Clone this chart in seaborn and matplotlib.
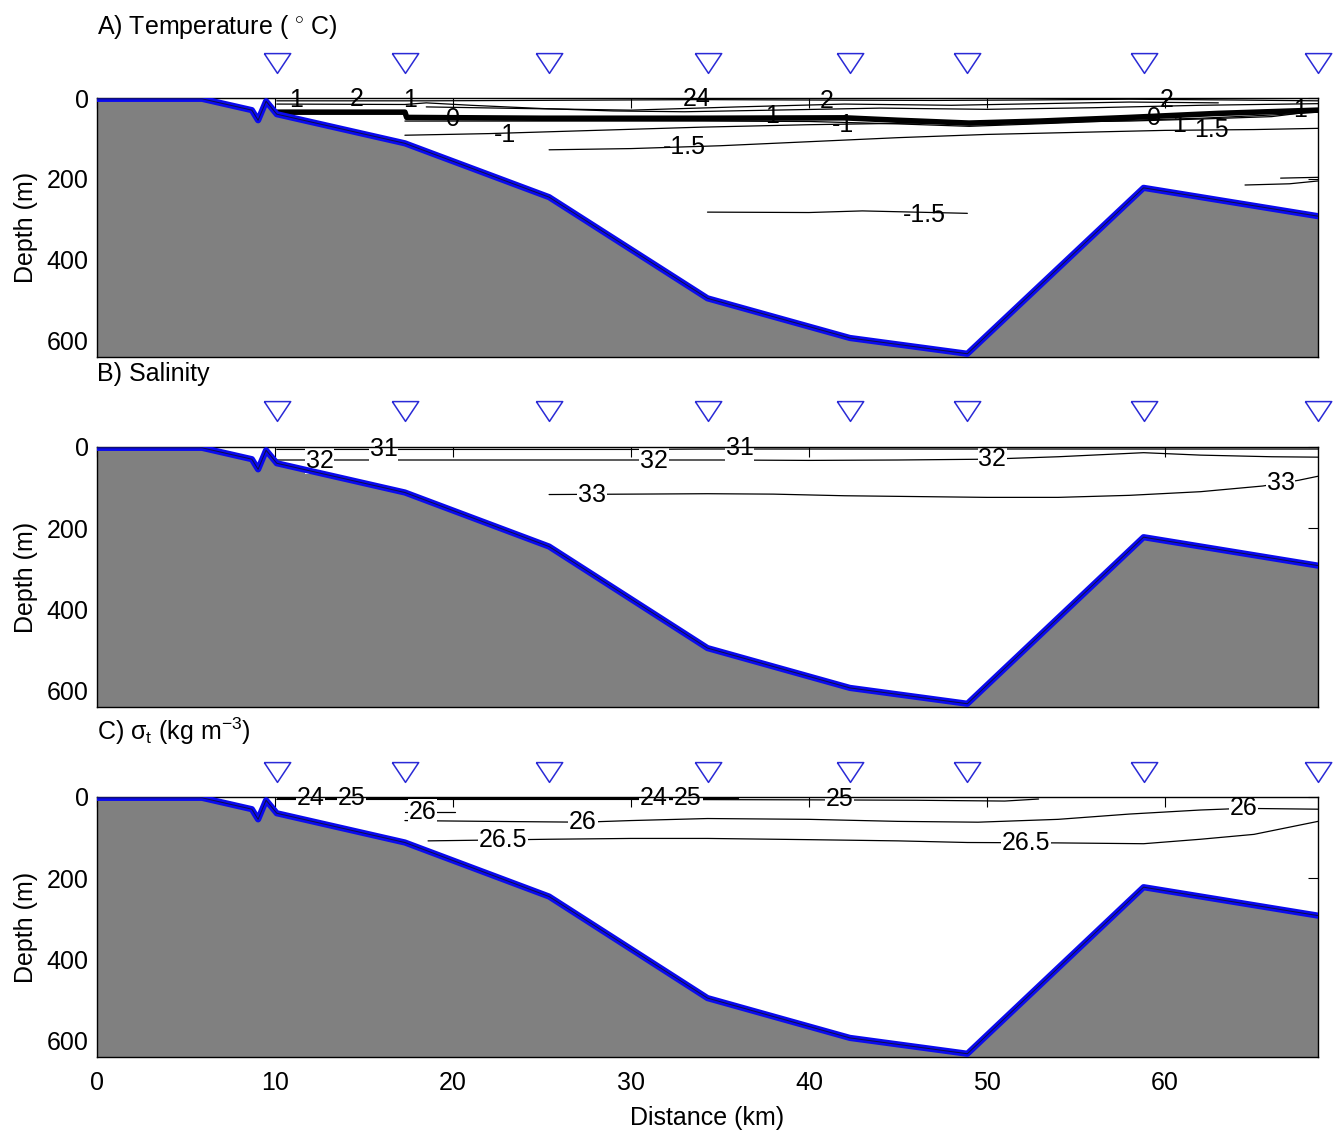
import matplotlib
matplotlib.use("Agg")
import matplotlib.pyplot as plt
import seaborn as sns

sns.set_theme(style="white")
plt.rcParams['font.family'] = ['Liberation Sans', 'DejaVu Sans']
plt.rcParams.update({'mathtext.fontset': 'custom',
                     'mathtext.rm': 'Liberation Sans',
                     'mathtext.it': 'Liberation Sans:italic',
                     'mathtext.sf': 'Liberation Sans',
                     'text.color': 'black',
                     'axes.labelcolor': 'black',
                     'xtick.color': 'black',
                     'ytick.color': 'black'})

# --- stations and bottom profile (distance km, depth m) ---
station_km = [10.1, 17.3, 25.4, 34.3, 42.3, 48.9, 58.8, 68.6]
bathy_km = [0, 5.9, 8.7, 9.05, 9.5, 10.1, 17.3, 25.4, 34.3, 42.3, 48.9, 58.8, 68.6]
bathy_depth = [2, 2, 30, 55, 8, 40, 112, 245, 495, 593, 632, 222, 292]

# --- temperature isolines ---
t2_km = [10.1, 14, 18.5, 24, 29, 34, 40, 47, 52, 58, 64, 68.6]
t2_depth = [7, 7, 7, 6, 5, 4, 5, 6, 5, 3, 5, 7]
t1_km = [10.1, 17.3, 18.5, 21, 25, 29, 33, 38, 44, 50, 56, 62, 68.6]
t1_depth = [15, 16, 12, 18, 26, 32, 34, 30, 25, 28, 24, 18, 14]
t1b_km = [18.5, 24, 30, 36, 42, 48, 53, 58, 63]
t1b_depth = [22, 26, 30, 22, 15, 18, 14, 10, 12]
t0_km = [10.1, 17.3, 17.4, 25, 34, 42, 45, 49, 53, 58, 63, 68.6]
t0_depth = [35, 35, 48, 50, 50, 49, 55, 62, 57, 48, 38, 30]
t0b_km = [17.3, 24, 34, 40, 45, 49, 54, 58, 62, 66, 68.6]
t0b_depth = [57, 57, 57, 58, 64, 70, 62, 55, 50, 42, 35]
tm1_km = [17.3, 22, 28, 34, 40, 46, 52, 58, 62, 66, 68.6]
tm1_depth = [92, 88, 80, 72, 66, 62, 60, 57, 52, 46, 32]
tm15_km = [25.4, 30, 35, 40, 45, 50, 55, 60, 65, 68.6]
tm15_depth = [128, 125, 118, 108, 98, 90, 85, 80, 78, 75]
tm15d_km = [34.3, 40, 43, 48.9]
tm15d_depth = [282, 283, 279, 285]
tr1_km = [64.5, 67, 68.6]
tr1_depth = [215, 212, 205]
tr2_km = [66.5, 68.6]
tr2_depth = [198, 196]
temp_lab_text = ["1", "2", "1", "0", "-1", "-1.5", "24", "1", "2", "-1",
                 "-1.5", "2", "0", "1", "1.5", "1"]
temp_lab_km = [11.2, 14.6, 17.6, 20.0, 22.9, 33.0, 33.7, 37.9, 41.0, 41.9,
               46.5, 60.1, 59.4, 60.8, 62.6, 67.6]
temp_lab_depth = [5, 3, 5, 52, 92, 121, 3, 45, 8, 66,
                  290, 5, 50, 67, 80, 30]

# --- salinity isolines ---
s31_km = [10.1, 20, 30, 34, 40, 44, 50, 56, 62, 68.6]
s31_depth = [6, 6, 6, 5, 5, 5, 5, 5, 5, 5]
s32_km = [10.1, 15, 20, 25, 30, 35, 40, 45, 50, 54, 58.8, 62, 66, 68.6]
s32_depth = [32, 32, 32, 32, 32, 32, 33, 32, 30, 24, 14, 20, 24, 25]
s33_km = [25.4, 30, 34.3, 38, 42, 46, 50, 54, 58, 62, 65.5, 67.5, 68.6]
s33_depth = [117, 116, 115, 116, 120, 122, 124, 124, 119, 110, 96, 82, 72]
sal_lab_text = ["31", "31", "32", "32", "32", "33", "33"]
sal_lab_km = [16.1, 36.1, 12.5, 31.3, 50.3, 27.8, 66.5]
sal_lab_depth = [5, 3, 35, 35, 30, 117, 89]

# --- sigma-t isolines ---
d24_km = [10.1, 20, 30, 36]
d24_depth = [2, 2, 2, 2]
d25_km = [10.1, 20, 30, 40, 46, 51, 52.9]
d25_depth = [6, 6, 6, 7, 8, 10, 5]
d26a_km = [17.3, 20.1]
d26a_depth = [37, 37]
d26_km = [17.3, 22, 27.3, 30, 34.3, 40, 45, 49.5, 54, 58, 62, 64.4, 68.6]
d26_depth = [58, 60, 62, 58, 53, 55, 60, 62, 55, 42, 32, 28, 30]
d265_km = [18.6, 25.4, 30, 34.3, 40, 45, 48.9, 54, 58.8, 62, 65, 68.6]
d265_depth = [108, 104, 102, 102, 105, 108, 112, 113, 115, 104, 92, 60]
den_lab_text = ["24", "25", "24", "25", "25", "26", "26", "26", "26.5", "26.5"]
den_lab_km = [12.0, 14.3, 31.3, 33.2, 41.7, 18.3, 27.3, 64.4, 22.8, 52.2]
den_lab_depth = [2, 2, 2, 2, 4, 37, 62, 28, 106, 114]

temp_lines = [(t2_km, t2_depth, 0.9), (t1_km, t1_depth, 0.9), (t1b_km, t1b_depth, 0.9),
              (t0_km, t0_depth, 4.0), (t0b_km, t0b_depth, 0.9), (tm1_km, tm1_depth, 0.9),
              (tm15_km, tm15_depth, 0.9), (tm15d_km, tm15d_depth, 0.9),
              (tr1_km, tr1_depth, 0.9), (tr2_km, tr2_depth, 0.9)]
sal_lines = [(s31_km, s31_depth, 0.9), (s32_km, s32_depth, 0.9), (s33_km, s33_depth, 0.9)]
den_lines = [(d24_km, d24_depth, 0.9), (d25_km, d25_depth, 0.9), (d26a_km, d26a_depth, 0.9),
             (d26_km, d26_depth, 0.9), (d265_km, d265_depth, 0.9)]

FS = 18
TRI = [(-1, 0.75), (1, 0.75), (0, -0.75), (-1, 0.75)]
fig = plt.figure(figsize=(13.35, 11.35), dpi=100)
W, H = 1335, 1135


def section(top, bottom, lines, lab_text, lab_km, lab_depth, title, title_y, tri_off, boxed):
    ax = fig.add_axes([97 / W, 1 - bottom / H, 1221 / W, (bottom - top) / H])
    ax.set_axisbelow(True)
    ax.fill_between(bathy_km, bathy_depth, 700, color='#808080', lw=0, zorder=1)
    for xs, ys, lw in lines:
        sns.lineplot(x=xs, y=ys, sort=False, estimator=None, color='black',
                     lw=lw, ax=ax, zorder=2)
    bb = dict(facecolor='white', edgecolor='none', pad=0.5) if boxed else None
    for t, x, y in zip(lab_text, lab_km, lab_depth):
        ax.text(x, y, t, fontsize=FS, ha='center', va='center', zorder=2.5, bbox=bb)
    sns.lineplot(x=bathy_km, y=bathy_depth, sort=False, estimator=None,
                 color='#0a0aef', lw=4.5, ax=ax, zorder=3)
    sns.lineplot(x=bathy_km, y=bathy_depth, sort=False, estimator=None,
                 color='#101040', lw=0.7, ax=ax, zorder=3)
    ax.plot(station_km, [1 + tri_off] * len(station_km), ls='none',
            marker=TRI, ms=19, mfc='none', mec='#2a2ad6', mew=1.1,
            transform=ax.get_xaxis_transform(), clip_on=False)
    ax.set_xlim(0, 68.6)
    ax.set_ylim(640, 0)
    ax.set_xticks(range(0, 70, 10))
    ax.set_yticks([0, 200, 400, 600])
    ax.tick_params(direction='in', top=True, right=True, length=7, width=0.8,
                   labelsize=FS, colors='black', pad=6)
    ax.tick_params(axis='x', pad=10)
    for s in ax.spines.values():
        s.set_color('black')
        s.set_linewidth(1.0)
    ax.set_ylabel('Depth (m)', fontsize=FS, color='black')
    ax.yaxis.set_label_coords(-0.048, 0.5)
    fig.text(97 / W, 1 - title_y / H, title, fontsize=FS, ha='left', va='center')
    return ax


axa = section(98, 357, temp_lines, temp_lab_text, temp_lab_km, temp_lab_depth,
              r"A) Temperature ( $^{\circ}$ C)", 27, 0.135, False)
axb = section(447, 707, sal_lines, sal_lab_text, sal_lab_km, sal_lab_depth,
              "B) Salinity", 374, 0.138, True)
axc = section(797, 1057, den_lines, den_lab_text, den_lab_km, den_lab_depth,
              r"C) $\mathrm{\sigma_t}$ (kg m$^{-3}$)", 731, 0.096, True)

axa.tick_params(labelbottom=False)
axb.tick_params(labelbottom=False)
axc.set_xlabel('Distance (km)', fontsize=FS, color='black', labelpad=8)

fig.savefig('out.png', dpi=100, facecolor='white')
